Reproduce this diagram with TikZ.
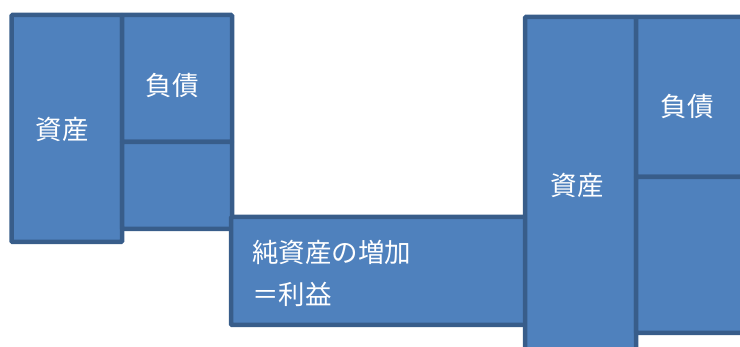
\documentclass[tikz,border=0pt]{standalone}
\usepackage{fontspec}
\newfontfamily\jp{Noto Sans CJK JP}
\definecolor{boxfill}{HTML}{4F81BD}
\definecolor{boxline}{HTML}{385D8A}
\begin{document}
\begin{tikzpicture}[x=1pt,y=-1pt,
  blk/.style={draw=boxline,fill=boxfill,line width=4.5pt,rounded corners=1pt,inner sep=0pt},
  lbl/.style={text=white,font=\jp\fontsize{26.5}{30}\selectfont,inner sep=0pt}]
\useasboundingbox (0,0) rectangle (740,347);
\clip (0,0) rectangle (740,347);
% left balance sheet
\node[blk,minimum width=110.5pt,minimum height=227pt] (la) at (66.75,128.5) {};
\node[blk,minimum width=110pt,minimum height=127pt] (ll) at (177,78.5) {};
\node[blk,minimum width=110pt,minimum height=87pt] (le) at (177,185.5) {};
% middle
\node[blk,minimum width=295pt,minimum height=108pt] (mid) at (378.5,271) {};
% right balance sheet
\node[blk,minimum width=111pt,minimum height=343pt] (ra) at (580.5,188.5) {};
\node[blk,minimum width=124pt,minimum height=160pt] (rl) at (698,97) {};
\node[blk,minimum width=124pt,minimum height=156pt] (re) at (698,255) {};
% labels
\node[lbl] (t1) at (62,129) {資産};
\node[lbl] (t2) at (172,86) {負債};
\node[lbl,anchor=west] (t3) at (252,252) {純資産の増加};
\node[lbl,anchor=west] (t4) at (252,294) {＝利益};
\node[lbl] (t5) at (577,185) {資産};
\node[lbl] (t6) at (687,107) {負債};
\end{tikzpicture}
\end{document}
